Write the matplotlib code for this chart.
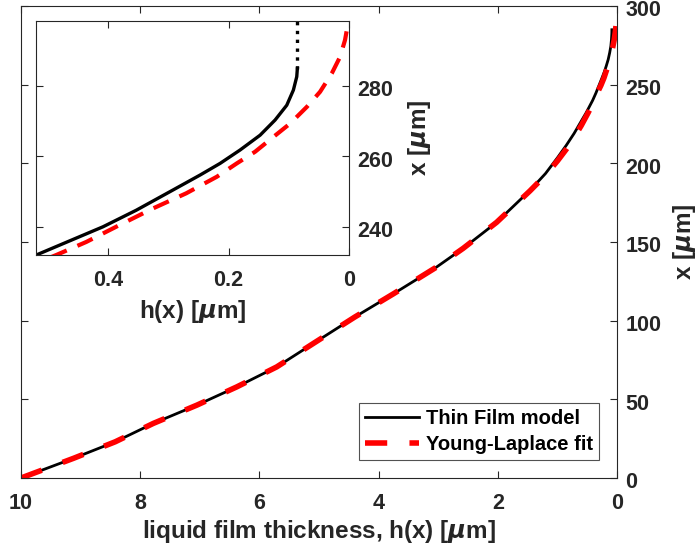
import matplotlib
matplotlib.use("Agg")
import matplotlib.pyplot as plt
from matplotlib.transforms import ScaledTranslation

plt.rcParams["font.family"] = ["Liberation Sans", "DejaVu Sans"]
plt.rcParams["font.weight"] = "bold"
plt.rcParams["mathtext.fontset"] = "dejavusans"

# thin film model: film thickness h [um] vs position x [um]
h_film = [10.0, 9.12, 8.42, 7.78, 7.05, 6.38, 5.71, 5.10, 4.40, 3.75, 3.03, 2.58,
          2.02, 1.46, 1.20, 1.00, 0.85, 0.72, 0.62, 0.5195, 0.4642, 0.4088, 0.3535,
          0.2982, 0.2473, 0.2141, 0.1809, 0.1477, 0.1228, 0.1034, 0.0924, 0.0868,
          0.0858]
x_film = [0, 12.5, 23.0, 34.7, 46.3, 57.9, 70.6, 85.4, 102.3, 117.1, 134.0, 146.0,
          162.5, 182.8, 193.5, 203.5, 211.5, 219.0, 225.5, 232.0, 236.0, 240.0, 244.7,
          249.9, 254.7, 258.0, 261.8, 266.0, 270.3, 274.5, 278.8, 282.6, 284.9]
# dotted continuation of the film model at the top
h_film_end = [0.0858, 0.0858]
x_film_end = [284.9, 298.6]

# Young-Laplace fit
h_yl = [10.0, 9.12, 8.42, 7.78, 7.05, 6.38, 5.71, 5.10, 4.40, 3.75, 3.03, 2.58,
        2.02, 1.46, 1.20, 1.00, 0.85, 0.72, 0.60, 0.4863, 0.4365, 0.3812, 0.3258,
        0.2705, 0.2196, 0.1864, 0.1560, 0.1256, 0.0979, 0.0702, 0.0481, 0.0287,
        0.0149, 0.0066, 0.0022, 0.0]
x_yl = [0, 12.5, 23.0, 34.7, 46.3, 57.9, 70.6, 85.4, 102.3, 117.1, 134.0, 146.0,
        162.5, 182.5, 192.5, 201.5, 209.0, 216.5, 224.0, 232.0, 235.7, 240.5, 245.2,
        249.5, 254.2, 258.0, 261.3, 265.5, 269.3, 274.0, 278.3, 283.5, 288.2, 293.0,
        297.2, 299.0]

main_xticks = [10, 8, 6, 4, 2, 0]
main_yticks = [0, 50, 100, 150, 200, 250, 300]
inset_xticks = [0.4, 0.2, 0]
inset_yticks = [240, 260, 280]

TXT = "#262626"
W, H = 697, 554
fig = plt.figure(figsize=(W / 100, H / 100), dpi=100)
fig.patch.set_facecolor("white")
nudge = ScaledTranslation(0, -2.5 / 100, fig.dpi_scale_trans)


def style(ax):
    for sp in ax.spines.values():
        sp.set_color(TXT)
        sp.set_linewidth(0.8)
    ax.tick_params(which="both", direction="in", top=True, bottom=True, left=True,
                   right=True, labelleft=False, labelright=True, colors=TXT,
                   labelcolor=TXT, length=5, width=0.8, labelsize=15.5)
    ax.tick_params(axis="x", pad=10.5)
    ax.tick_params(axis="y", pad=6)
    ax.yaxis.set_label_position("right")
    for lab in ax.get_xticklabels() + ax.get_yticklabels():
        lab.set_fontweight("bold")
    # matlab puts the right-hand labels a touch below their ticks
    for lab in ax.get_yticklabels():
        lab.set_transform(lab.get_transform() + nudge)


# main axes
ax = fig.add_axes([21 / W, 1 - 478 / H, 596 / W, 472 / H])
ax.plot(h_film, x_film, color="black", lw=2.0, label="Thin Film model")
ax.plot(h_yl, x_yl, color="red", lw=4, dashes=(4.0, 4.0), label="Young-Laplace fit")
ax.set_xlim(10, 0)
ax.set_ylim(0, 300)
ax.set_xticks(main_xticks)
ax.set_yticks(main_yticks)
style(ax)
ax.set_xlabel(r"liquid film thickness, h(x) [$\mu$m]", fontsize=17.5, fontweight="bold",
              color=TXT, labelpad=3)
ax.set_ylabel(r"x [$\mu$m]", fontsize=17.5, fontweight="bold", color=TXT, labelpad=7)
leg = ax.legend(loc="lower right", bbox_to_anchor=(0.97, 0.038), fontsize=14.5,
                frameon=True, fancybox=False, handlelength=2.7, borderpad=0.3,
                labelspacing=0.35, handletextpad=0.35, borderaxespad=0)
leg.get_frame().set_edgecolor(TXT)
leg.get_frame().set_linewidth(0.8)
for t in leg.get_texts():
    t.set_fontweight("bold")
    t.set_color("black")

# inset axes
ins = fig.add_axes([36 / W, 1 - 255 / H, 313 / W, 234 / H])
ins.plot(h_film, x_film, color="black", lw=2.4)
ins.plot(h_film_end, x_film_end, color="black", lw=2.4, ls=":")
ins.plot(h_yl, x_yl, color="red", lw=3.0, dashes=(4.0, 2.8))
ins.set_xlim(0.52, 0)
ins.set_ylim(232, 298.4)
ins.set_xticks(inset_xticks)
ins.set_xticklabels(["0.4", "0.2", "0"])
ins.set_yticks(inset_yticks)
style(ins)
ins.set_xlabel(r"h(x) [$\mu$m]", fontsize=17.5, fontweight="bold", color=TXT, labelpad=5)
ins.set_ylabel(r"x [$\mu$m]", fontsize=17.5, fontweight="bold", color=TXT, labelpad=9)

fig.savefig("out.png", dpi=100)
